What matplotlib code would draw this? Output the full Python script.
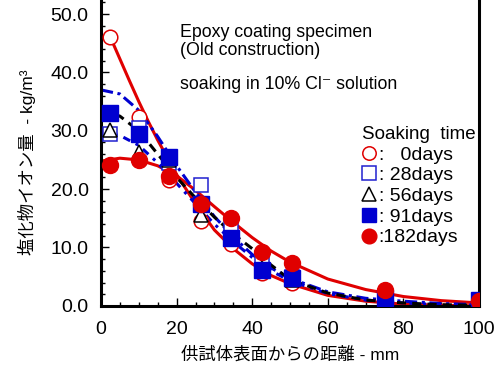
import matplotlib
matplotlib.use("Agg")
import matplotlib.pyplot as plt
from matplotlib.ticker import MultipleLocator, FormatStrFormatter

plt.rcParams['font.family'] = ['Liberation Sans', 'Noto Sans CJK JP', 'DejaVu Sans']

# ---------------------------------------------------------------------
# measured chloride content (kg/m3) vs depth (mm)
depth = [2.5, 10, 18, 26.5, 34.5, 42.5, 50.5, 75, 100]
d0 = [46.0, 32.4, 21.6, 14.5, 10.6, 5.7, 4.0, 1.0, 0.5]
d28 = [29.5, 30.5, 24.5, 20.7, 13.5, 7.5, 5.0, 0.6, 0.3]
d56 = [30.1, 26.4, 25.0, 15.5, 11.5, 6.5, 4.5, 1.2, 0.5]
d91 = [33.0, 29.4, 25.5, 17.5, 11.6, 6.2, 4.8, 1.4, 1.0]
d182 = [24.1, 25.0, 22.3, 17.5, 15.1, 9.2, 7.4, 2.7, 0.8]

# fitted curves
fit_x0 = [2.5, 5, 7.5, 10, 12.5, 15, 20, 25, 30, 35, 40, 45, 50, 60, 70, 80, 90, 100]
fit_0 = [46.0, 42.3, 38.6, 35.0, 31.6, 28.4, 22.5, 17.5, 13.0, 9.8, 7.2, 5.2, 3.8, 1.8, 0.8, 0.3, 0.1, 0.0]
fit_x = [0, 5, 10, 15, 20, 25, 30, 35, 40, 45, 50, 60, 70, 80, 90, 100]
fit_182 = [24.8, 25.3, 25.0, 24.0, 22.3, 19.8, 17.0, 14.3, 11.7, 9.4, 7.5, 4.6, 2.8, 1.6, 0.9, 0.5]
fit_91 = [37.0, 36.3, 33.5, 29.0, 24.0, 19.5, 15.3, 11.8, 8.8, 6.5, 4.7, 2.4, 1.3, 0.8, 0.4, 0.2]
fit_28 = [29.5, 29.2, 27.5, 24.5, 21.0, 17.5, 14.0, 11.0, 8.3, 6.0, 4.3, 2.1, 1.0, 0.5, 0.2, 0.1]
fit_56 = [33.5, 32.5, 30.0, 26.0, 22.0, 18.5, 15.2, 12.3, 9.8, 7.0, 4.5, 2.2, 1.0, 0.5, 0.2, 0.1]

labels = [":   0days", ": 28days", ": 56days", ": 91days", ":182days"]

fig = plt.figure(figsize=(5.0, 3.65), dpi=100)
ax = fig.add_axes([0.202, 0.162, 0.756, 0.838])

# courbes
ax.plot(fit_x0, fit_0, color='#e00000', lw=2.2, zorder=2)
ax.plot(fit_x, fit_182, color='#e00000', lw=2.2, zorder=2)
ax.plot(fit_x, fit_91, color='#0000d0', lw=2.2, ls=(0, (4, 1.5, 1, 1.5)), zorder=2)
ax.plot(fit_x, fit_28, color='#0000d0', lw=2.2, ls=(0, (2.5, 2, 1, 2)), zorder=2)
ax.plot(fit_x, fit_56, color='black', lw=2.2, ls=(0, (3, 2)), zorder=2)

# points
h0, = ax.plot(depth, d0, 'o', ms=10.5, mfc='white', mec='#e00000', mew=1.1, ls='none', zorder=3)
h28, = ax.plot(depth, d28, 's', ms=10.5, mfc='white', mec='#2020d0', mew=1.1, ls='none', zorder=4)
h56, = ax.plot(depth, d56, '^', ms=10.5, mfc='white', mec='black', mew=1.1, ls='none', zorder=5)
h91, = ax.plot(depth, d91, 's', ms=11, mfc='#0000d0', mec='#0000d0', ls='none', zorder=6)
h182, = ax.plot(depth, d182, 'o', ms=11.5, mfc='#e00000', mec='#e00000', ls='none', zorder=7)

leg = ax.legend([h0, h28, h56, h91, h182], labels, title="Soaking  time",
                loc='upper left', bbox_to_anchor=(0.67, 0.613), frameon=False,
                fontsize=14, title_fontsize=13.5, handlelength=0.75, handletextpad=0.1,
                labelspacing=0.16, borderaxespad=0, markerscale=0.92, alignment='left')
leg._legend_box.sep = 2

ax.text(0.21, 0.895, "Epoxy coating specimen", transform=ax.transAxes, fontsize=12.8, va='center')
ax.text(0.21, 0.835, "(Old construction)", transform=ax.transAxes, fontsize=12.8, va='center')
ax.text(0.21, 0.725, "soaking in 10% Cl\u207b solution", transform=ax.transAxes, fontsize=12.8,
        va='center', family=['Liberation Sans', 'DejaVu Sans'])

ax.set_xlim(0, 100)
ax.set_ylim(0, 52.4)
ax.set_yticks([0, 10, 20, 30, 40, 50])
ax.xaxis.set_major_locator(MultipleLocator(20))
ax.xaxis.set_minor_locator(MultipleLocator(5))
ax.yaxis.set_minor_locator(MultipleLocator(2))
ax.yaxis.set_major_formatter(FormatStrFormatter('%.1f'))
ax.tick_params(which='both', direction='in', labelsize=14, width=1.0)
ax.tick_params(which='major', length=6)
ax.tick_params(which='minor', length=3)
ax.tick_params(axis='x', pad=11)
ax.tick_params(axis='y', pad=9)
ax.spines['top'].set_visible(False)
for s in ['left', 'right', 'bottom']:
    ax.spines[s].set_linewidth(2.2)

ax.set_xlabel("供試体表面からの距離 - mm", fontsize=12.5, labelpad=6)
ax.set_ylabel("塩化物イオン量  - kg/m³", fontsize=12.5, labelpad=10, y=0.47)

fig.savefig("out.png", dpi=100)
